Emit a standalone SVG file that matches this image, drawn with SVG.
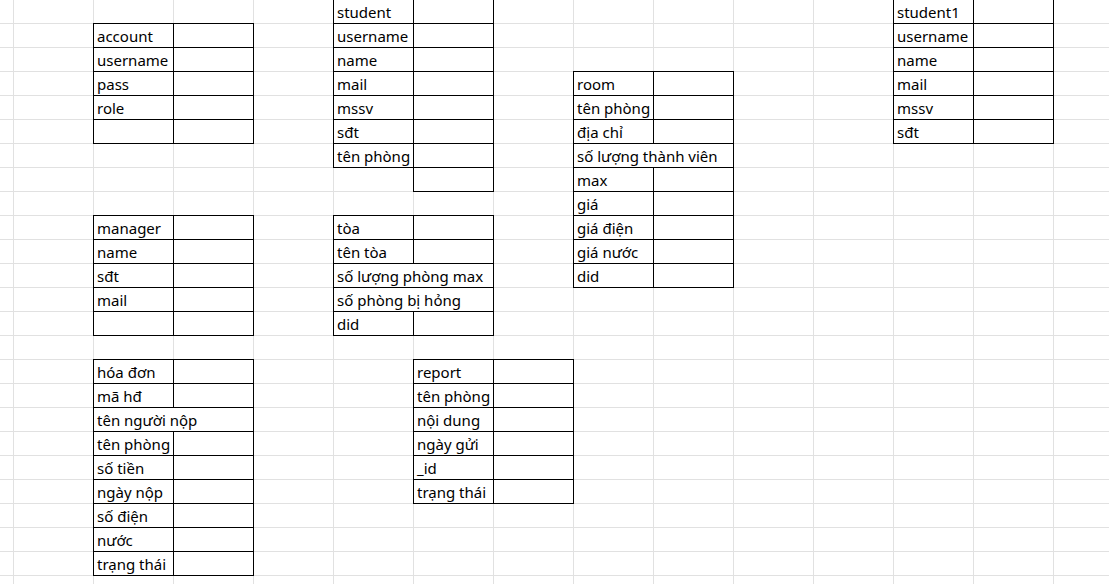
<svg xmlns="http://www.w3.org/2000/svg" width="1109" height="584" viewBox="0 0 1109 584">
<style>
.g{stroke:#e1e1e1;stroke-width:1;fill:none}
.b{stroke:#000;stroke-width:1;fill:#fff}
.l{stroke:#000;stroke-width:1;fill:none}
.t{font-family:"Noto Sans","Liberation Sans",sans-serif;font-size:15px;fill:#000}
</style>
<rect width="1109" height="584" fill="#fff"/>
<g id="grid" class="g">
<path d="M13.5 0V584M93.5 0V584M173.5 0V584M253.5 0V584M333.5 0V584M413.5 0V584M493.5 0V584M573.5 0V584M653.5 0V584M733.5 0V584M813.5 0V584M893.5 0V584M973.5 0V584M1053.5 0V584"/>
<path d="M0 23.5H1109M0 47.5H1109M0 71.5H1109M0 95.5H1109M0 119.5H1109M0 143.5H1109M0 167.5H1109M0 191.5H1109M0 215.5H1109M0 239.5H1109M0 263.5H1109M0 287.5H1109M0 311.5H1109M0 335.5H1109M0 359.5H1109M0 383.5H1109M0 407.5H1109M0 431.5H1109M0 455.5H1109M0 479.5H1109M0 503.5H1109M0 527.5H1109M0 551.5H1109M0 575.5H1109"/>
</g>
<g id="account">
<rect class="b" x="93.5" y="23.5" width="160" height="120"/>
<path class="l" d="M93.5 47.5H253.5M93.5 71.5H253.5M93.5 95.5H253.5M93.5 119.5H253.5M173.5 23.5V143.5"/>
<text class="t" x="97" y="42">account</text>
<text class="t" x="97" y="66">username</text>
<text class="t" x="97" y="90">pass</text>
<text class="t" x="97" y="114">role</text>
</g>
<g id="student">
<rect class="b" x="333.5" y="-0.5" width="160" height="168"/>
<rect class="b" x="413.5" y="167.5" width="80" height="24"/>
<path class="l" d="M333.5 23.5H493.5M333.5 47.5H493.5M333.5 71.5H493.5M333.5 95.5H493.5M333.5 119.5H493.5M333.5 143.5H493.5M413.5 -0.5V191.5"/>
<text class="t" x="337" y="18">student</text>
<text class="t" x="337" y="42">username</text>
<text class="t" x="337" y="66">name</text>
<text class="t" x="337" y="90">mail</text>
<text class="t" x="337" y="114">mssv</text>
<text class="t" x="337" y="138">sđt</text>
<text class="t" x="337" y="162">tên phòng</text>
</g>
<g id="room">
<rect class="b" x="573.5" y="71.5" width="160" height="216"/>
<path class="l" d="M573.5 95.5H733.5M573.5 119.5H733.5M573.5 143.5H733.5M573.5 167.5H733.5M573.5 191.5H733.5M573.5 215.5H733.5M573.5 239.5H733.5M573.5 263.5H733.5M653.5 71.5V143.5M653.5 167.5V287.5"/>
<text class="t" x="577" y="90">room</text>
<text class="t" x="577" y="114">tên phòng</text>
<text class="t" x="577" y="138">địa chỉ</text>
<text class="t" x="577" y="162">số lượng thành viên</text>
<text class="t" x="577" y="186">max</text>
<text class="t" x="577" y="210">giá</text>
<text class="t" x="577" y="234">giá điện</text>
<text class="t" x="577" y="258">giá nước</text>
<text class="t" x="577" y="282">did</text>
</g>
<g id="student1">
<rect class="b" x="893.5" y="-0.5" width="160" height="144"/>
<path class="l" d="M893.5 23.5H1053.5M893.5 47.5H1053.5M893.5 71.5H1053.5M893.5 95.5H1053.5M893.5 119.5H1053.5M973.5 -0.5V143.5"/>
<text class="t" x="897" y="18">student1</text>
<text class="t" x="897" y="42">username</text>
<text class="t" x="897" y="66">name</text>
<text class="t" x="897" y="90">mail</text>
<text class="t" x="897" y="114">mssv</text>
<text class="t" x="897" y="138">sđt</text>
</g>
<g id="manager">
<rect class="b" x="93.5" y="215.5" width="160" height="120"/>
<path class="l" d="M93.5 239.5H253.5M93.5 263.5H253.5M93.5 287.5H253.5M93.5 311.5H253.5M173.5 215.5V335.5"/>
<text class="t" x="97" y="234">manager</text>
<text class="t" x="97" y="258">name</text>
<text class="t" x="97" y="282">sđt</text>
<text class="t" x="97" y="306">mail</text>
</g>
<g id="toa">
<rect class="b" x="333.5" y="215.5" width="160" height="120"/>
<path class="l" d="M333.5 239.5H493.5M333.5 263.5H493.5M333.5 287.5H493.5M333.5 311.5H493.5M413.5 215.5V263.5M413.5 311.5V335.5"/>
<text class="t" x="337" y="234">tòa</text>
<text class="t" x="337" y="258">tên tòa</text>
<text class="t" x="337" y="282">số lượng phòng max</text>
<text class="t" x="337" y="306">số phòng bị hỏng</text>
<text class="t" x="337" y="330">did</text>
</g>
<g id="hoadon">
<rect class="b" x="93.5" y="359.5" width="160" height="216"/>
<path class="l" d="M93.5 383.5H253.5M93.5 407.5H253.5M93.5 431.5H253.5M93.5 455.5H253.5M93.5 479.5H253.5M93.5 503.5H253.5M93.5 527.5H253.5M93.5 551.5H253.5M173.5 359.5V407.5M173.5 431.5V575.5"/>
<text class="t" x="97" y="378">hóa đơn</text>
<text class="t" x="97" y="402">mã hđ</text>
<text class="t" x="97" y="426">tên người nộp</text>
<text class="t" x="97" y="450">tên phòng</text>
<text class="t" x="97" y="474">số tiền</text>
<text class="t" x="97" y="498">ngày nộp</text>
<text class="t" x="97" y="522">số điện</text>
<text class="t" x="97" y="546">nước</text>
<text class="t" x="97" y="570">trạng thái</text>
</g>
<g id="report">
<rect class="b" x="413.5" y="359.5" width="160" height="144"/>
<path class="l" d="M413.5 383.5H573.5M413.5 407.5H573.5M413.5 431.5H573.5M413.5 455.5H573.5M413.5 479.5H573.5M493.5 359.5V503.5"/>
<text class="t" x="417" y="378">report</text>
<text class="t" x="417" y="402">tên phòng</text>
<text class="t" x="417" y="426">nội dung</text>
<text class="t" x="417" y="450">ngày gửi</text>
<text class="t" x="417" y="474">_id</text>
<text class="t" x="417" y="498">trạng thái</text>
</g>
<g id="connectors"></g>
</svg>
